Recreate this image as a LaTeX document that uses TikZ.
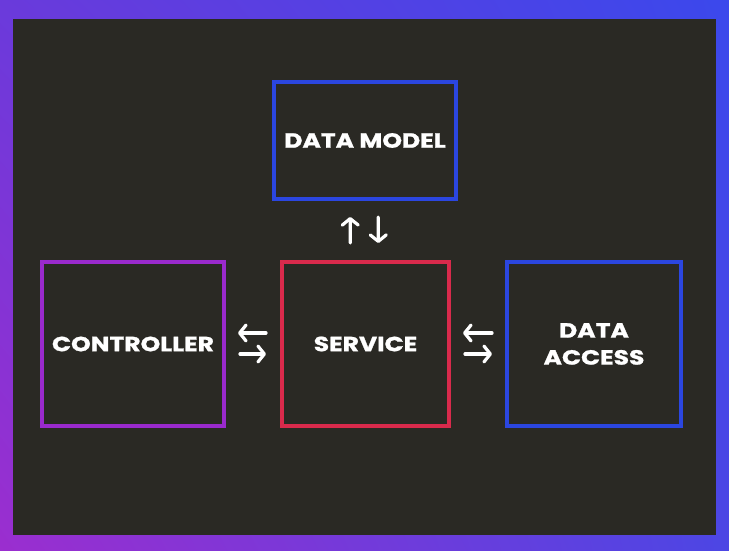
\documentclass[tikz,border=0pt]{standalone}
\usepackage{fontspec}
\setmainfont{Poppins}[BoldFeatures={FakeStretch=1.22,FakeBold=1.2}]
\usetikzlibrary{arrows.meta,shadings}
\definecolor{panel}{HTML}{2A2924}
\definecolor{boxblue}{HTML}{2B46E0}
\definecolor{boxpurple}{HTML}{9A2ACD}
\definecolor{boxred}{HTML}{D92A4C}
\definecolor{edgetl}{HTML}{6A3ADB}
\definecolor{edgetr}{HTML}{3B48EC}
\definecolor{edgebl}{HTML}{9B2ECF}
\definecolor{edgebr}{HTML}{4C46E4}
\begin{document}
\begin{tikzpicture}[x=1pt,y=-1pt,
    layer/.style={draw,line width=4pt,fill=panel,outer sep=0pt,align=center,
      text=white,font=\fontsize{20.5}{27}\selectfont\bfseries},
    flow/.style={white,line width=3.2pt,line cap=round,
      -{Straight Barb[length=6.5pt,width=16pt,line cap=round,line join=round]}}]
    % frame
    \shade[upper left=edgetl,upper right=edgetr,lower left=edgebl,lower right=edgebr]
      (0,0) rectangle (729,551);
    \fill[panel] (13,19) rectangle (716,535);
    % layers
    \node[layer,draw=boxblue,minimum width=182pt,minimum height=117pt] (model) at (365,140.5) {DATA MODEL};
    \node[layer,draw=boxpurple,minimum width=182pt,minimum height=164pt] (ctrl) at (133,344) {CONTROLLER};
    \node[layer,draw=boxred,minimum width=167pt,minimum height=164pt] (srv) at (365.5,344) {SERVICE};
    \node[layer,draw=boxblue,minimum width=174pt,minimum height=164pt] (access) at (594,344) {DATA\\ACCESS};
    % arrows
    \draw[flow,shorten <=19pt,shorten >=18pt] ([xshift=-15pt]srv.north) -- ([xshift=-15pt]model.south);
    \draw[flow,shorten <=18pt,shorten >=19pt] ([xshift=13pt]model.south) -- ([xshift=13pt]srv.north);
    \draw[flow,shorten <=16pt,shorten >=14pt] ([yshift=11pt]srv.west) -- ([yshift=11pt]ctrl.east);
    \draw[flow,shorten <=16pt,shorten >=16pt] ([yshift=-10pt]ctrl.east) -- ([yshift=-10pt]srv.west);
    \draw[flow,shorten <=15pt,shorten >=14pt] ([yshift=11pt]access.west) -- ([yshift=11pt]srv.east);
    \draw[flow,shorten <=16pt,shorten >=15pt] ([yshift=-10pt]srv.east) -- ([yshift=-10pt]access.west);
\end{tikzpicture}
\end{document}
